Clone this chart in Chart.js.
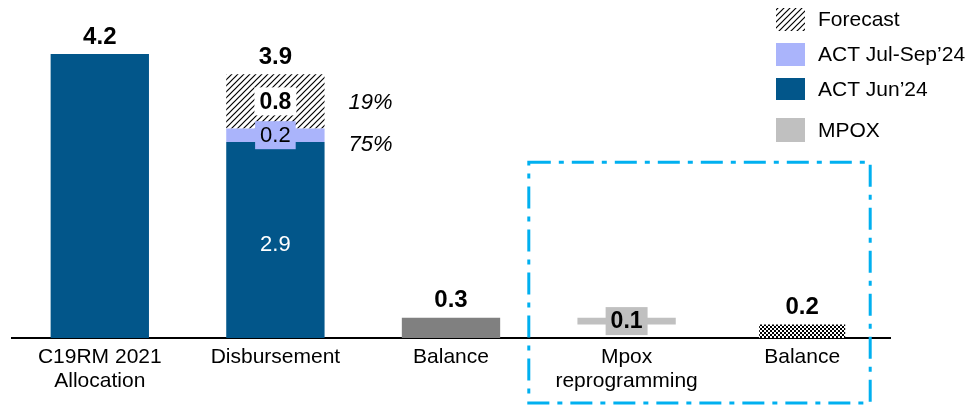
<!DOCTYPE html>
<html>
<head>
<meta charset="utf-8">
<script src="https://cdn.jsdelivr.net/npm/chart.js@4/dist/chart.umd.min.js"></script>
<style>
  html, body { margin: 0; padding: 0; background: #fff; }
  #wrap { width: 969px; height: 406px; }
</style>
</head>
<body>
<div id="wrap"><canvas id="c" width="969" height="406"></canvas></div>
<script>
// Categories and series (USD bn)
const categories = [['C19RM 2021', 'Allocation'], 'Disbursement', 'Balance', ['Mpox', 'reprogramming'], 'Balance'];
const actJun = [4.2, 2.9, null, null, null];
const actJulSep = [null, 0.2, null, null, null];
const forecast = [null, 0.8, null, null, null];
const balance = [null, null, 0.3, null, null];
const mpoxRange = [null, null, null, [0.2, 0.3], null];
const balanceAfterMpox = [null, null, null, null, 0.2];
const shareLabels = ['19%', '75%'];
const legendLabels = ['Forecast', 'ACT Jul-Sep\u201924', 'ACT Jun\u201924', 'MPOX'];

const FONT = '"Liberation Sans", Arial, sans-serif';
const DARK_BLUE = '#02568A';
const LIGHT_BLUE = '#AAB4FB';
const GREY = '#808080';
const MPOX_GREY = '#C0C0C0';

const canvas = document.getElementById('c');
const ctx = canvas.getContext('2d');

function hatchPattern() {
  const s = 6;
  const t = document.createElement('canvas');
  t.width = s; t.height = s;
  const g = t.getContext('2d');
  g.fillStyle = '#fff';
  g.fillRect(0, 0, s, s);
  g.strokeStyle = '#000';
  g.lineWidth = 1.2;
  g.beginPath();
  g.moveTo(-1, s + 1); g.lineTo(s + 1, -1);
  g.moveTo(-1, 1); g.lineTo(1, -1);
  g.moveTo(s - 1, s + 1); g.lineTo(s + 1, s - 1);
  g.stroke();
  return ctx.createPattern(t, 'repeat');
}

function checkerPattern() {
  const t = document.createElement('canvas');
  t.width = 4; t.height = 4;
  const g = t.getContext('2d');
  g.fillStyle = '#fff';
  g.fillRect(0, 0, 4, 4);
  g.fillStyle = '#000';
  g.fillRect(0, 0, 2, 2);
  g.fillRect(2, 2, 2, 2);
  return ctx.createPattern(t, 'repeat');
}

const HATCH = hatchPattern();
const CHECKER = checkerPattern();

// Value labels on and above the bars
const valueLabels = {
  id: 'valueLabels',
  afterDatasetsDraw(chart) {
    const c = chart.ctx;
    c.save();
    c.textAlign = 'center';
    c.textBaseline = 'middle';

    // segment labels inside the stacked column and the Mpox bar
    chart.data.datasets.forEach((ds, di) => {
      if (!ds.inner) return;
      const meta = chart.getDatasetMeta(di);
      meta.data.forEach((bar, i) => {
        const raw = ds.data[i];
        if (raw === null || raw === undefined) return;
        if (ds.inner.skip && ds.inner.skip.includes(i)) return;
        const v = Array.isArray(raw) ? raw[1] - raw[0] : raw;
        const text = v.toFixed(1);
        const cy = (bar.y + bar.base) / 2 + (ds.inner.dy || 0);
        c.font = (ds.inner.bold ? 'bold 23px ' : '22px ') + FONT;
        if (ds.inner.box) {
          const w = c.measureText(text).width + 10;
          c.fillStyle = ds.inner.box;
          c.fillRect(bar.x - w / 2, cy - 14, w, 28);
        }
        c.fillStyle = ds.inner.color;
        c.fillText(text, bar.x, cy + 1);
      });
    });

    // totals above the columns
    const totalIdx = [0, 1, 2, 4];
    totalIdx.forEach(i => {
      let sum = 0, top = Infinity, x = 0;
      chart.data.datasets.forEach((ds, di) => {
        const raw = ds.data[i];
        if (raw === null || raw === undefined || Array.isArray(raw)) return;
        sum += raw;
        const bar = chart.getDatasetMeta(di).data[i];
        top = Math.min(top, bar.y);
        x = bar.x;
      });
      c.font = 'bold 24px ' + FONT;
      c.fillStyle = '#000';
      c.fillText(sum.toFixed(1), x, top - 17);
    });

    // shares of the allocation beside the disbursement column
    const fBar = chart.getDatasetMeta(2).data[1];
    const jBar = chart.getDatasetMeta(0).data[1];
    c.font = 'italic 22px ' + FONT;
    c.textAlign = 'left';
    c.fillStyle = '#000';
    c.fillText(shareLabels[0], fBar.x + fBar.width / 2 + 24, (fBar.y + fBar.base) / 2 + 1);
    c.fillText(shareLabels[1], jBar.x + jBar.width / 2 + 24, jBar.y + 3);
    c.restore();
  }
};

// Dash-dot frame around the Mpox part of the chart
const mpoxFrame = {
  id: 'mpoxFrame',
  afterDraw(chart) {
    const xs = chart.scales.x, ys = chart.scales.y, c = chart.ctx;
    const left = (xs.getPixelForValue(2) + xs.getPixelForValue(3)) / 2 - 10;
    const right = xs.getPixelForValue(4) + 68;
    const top = ys.getPixelForValue(2.6);
    const bottom = chart.height - 3;
    c.save();
    c.strokeStyle = '#00B0F0';
    c.lineWidth = 3;
    c.setLineDash([22, 8, 5, 8]);
    c.strokeRect(left, top, right - left, bottom - top);
    c.restore();
  }
};

// Legend block in the upper right corner
const cornerLegend = {
  id: 'cornerLegend',
  afterDraw(chart) {
    const c = chart.ctx;
    const fills = [HATCH, LIGHT_BLUE, DARK_BLUE, MPOX_GREY];
    const rows = [[8, 31], [43, 66], [78, 100], [118, 142]];
    c.save();
    c.font = '21px ' + FONT;
    c.textBaseline = 'middle';
    c.textAlign = 'left';
    legendLabels.forEach((label, k) => {
      const [y0, y1] = rows[k];
      c.fillStyle = fills[k];
      c.fillRect(776, y0, 29, y1 - y0);
      c.fillStyle = '#000';
      c.fillText(label, 818, (y0 + y1) / 2 + 1);
    });
    c.restore();
  }
};

new Chart(canvas, {
  type: 'bar',
  data: {
    labels: categories,
    datasets: [
      { label: legendLabels[2], data: actJun, backgroundColor: DARK_BLUE,
        inner: { color: '#fff', skip: [0], dy: 4 } },
      { label: legendLabels[1], data: actJulSep, backgroundColor: LIGHT_BLUE,
        inner: { color: '#000', box: LIGHT_BLUE } },
      { label: legendLabels[0], data: forecast, backgroundColor: HATCH,
        inner: { color: '#000', bold: true, box: '#fff' } },
      { label: 'Balance', data: balance, backgroundColor: GREY },
      { label: legendLabels[3], data: mpoxRange, backgroundColor: MPOX_GREY,
        inner: { color: '#000', bold: true, box: MPOX_GREY } },
      { label: 'Balance after Mpox', data: balanceAfterMpox, backgroundColor: CHECKER,
        barPercentage: 0.49 }
    ]
  },
  options: {
    responsive: false,
    animation: false,
    devicePixelRatio: 1,
    layout: { padding: { left: 12, right: 79, top: 0, bottom: 6 } },
    datasets: { bar: { barPercentage: 0.56, categoryPercentage: 1, borderWidth: 0 } },
    plugins: { legend: { display: false }, tooltip: { enabled: false } },
    scales: {
      x: {
        stacked: true,
        grid: { display: false, drawTicks: false },
        border: { display: true, color: '#000', width: 2 },
        ticks: { color: '#000', font: { family: FONT, size: 21, lineHeight: '24px' }, padding: 7, maxRotation: 0, autoSkip: false }
      },
      y: {
        stacked: true,
        display: false,
        min: 0,
        max: 5
      }
    }
  },
  plugins: [valueLabels, mpoxFrame, cornerLegend]
});
</script>
</body>
</html>
